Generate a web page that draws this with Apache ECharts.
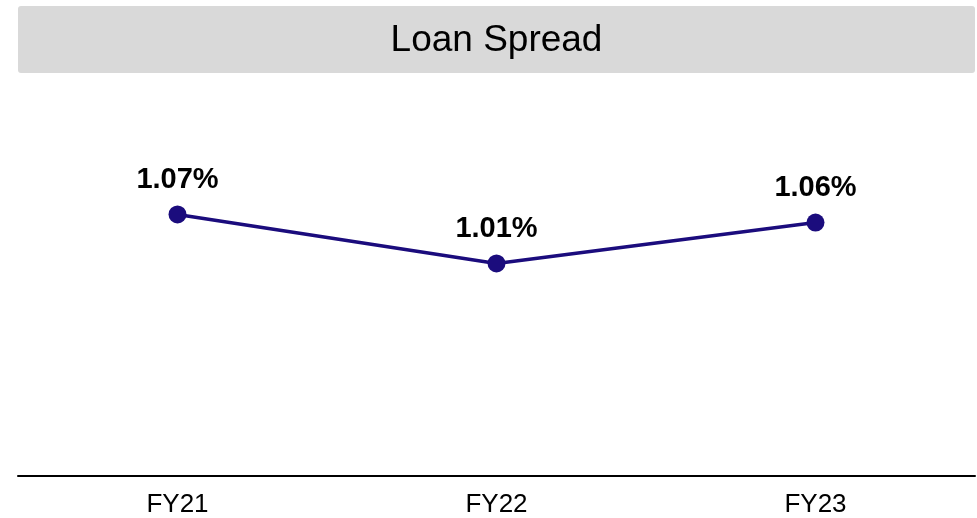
<!DOCTYPE html>
<html>
<head>
<meta charset="utf-8">
<script src="https://cdn.jsdelivr.net/npm/echarts@6/dist/echarts.min.js"></script>
<style>
  html, body { margin: 0; padding: 0; background: #fff; }
  #chart { width: 977px; height: 518px; }
</style>
</head>
<body>
<div id="chart"></div>
<script>
var categories = ['FY21', 'FY22', 'FY23']
var spread = [1.07, 1.01, 1.06]

var myChart = echarts.init(document.getElementById('chart'))

var option = {
  animation: false,
  textStyle: { fontFamily: 'Liberation Sans, Arial, sans-serif' },
  graphic: [
    {
      type: 'rect',
      shape: { x: 18, y: 6, width: 957, height: 67, r: 3 },
      style: { fill: '#d9d9d9' },
      z: -1
    },
    {
      type: 'text',
      x: 496.5,
      y: 41,
      style: {
        text: 'Loan Spread',
        fill: '#000',
        font: '37px "Liberation Sans", Arial, sans-serif',
        align: 'center',
        verticalAlign: 'middle'
      }
    }
  ],
  grid: { left: 18, right: 2, top: 100, bottom: 41 },
  xAxis: {
    type: 'category',
    data: categories,
    boundaryGap: true,
    axisLine: { lineStyle: { color: '#000', width: 2 } },
    axisTick: { show: false },
    axisLabel: { color: '#000', fontSize: 26, margin: 16 }
  },
  yAxis: {
    type: 'value',
    min: 0.75,
    max: 1.21,
    show: false,
    splitLine: { show: false }
  },
  series: [
    {
      name: 'Loan Spread',
      type: 'line',
      data: spread,
      symbol: 'circle',
      symbolSize: 18,
      itemStyle: { color: '#1b0c7d' },
      lineStyle: { color: '#1b0c7d', width: 3.5 },
      label: {
        show: true,
        position: 'top',
        distance: 11,
        fontSize: 29,
        fontWeight: 'bold',
        color: '#000',
        formatter: function (p) { return p.value.toFixed(2) + '%' }
      }
    }
  ]
}

myChart.setOption(option)
</script>
</body>
</html>
